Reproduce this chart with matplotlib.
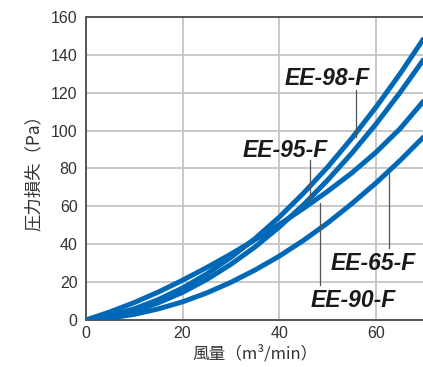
import matplotlib
matplotlib.use("Agg")
from matplotlib import pyplot as plt

# air flow (m3/min) vs pressure loss (Pa)
flow = [0, 5, 10, 15, 20, 25, 30, 35, 40, 45, 50, 55, 60, 65, 70]
ee98 = [0, 2.3, 5.9, 10.8, 16.9, 24.3, 33.1, 43.0, 54.3, 66.9, 80.7, 95.9, 112.3, 130.0, 149.0]
ee95 = [0, 1.8, 4.8, 9.1, 14.6, 21.4, 29.4, 38.6, 49.1, 60.8, 73.8, 88.0, 103.4, 120.1, 138.0]
ee90 = [0, 4.3, 9.2, 14.8, 21.0, 27.7, 34.8, 42.4, 50.4, 58.9, 67.9, 77.6, 88.5, 101.0, 116.0]
ee65 = [0, 1.05, 3.0, 5.9, 9.6, 14.3, 19.9, 26.4, 33.7, 42.0, 51.2, 61.4, 72.3, 84.2, 97.0]

names = ['EE-98-F', 'EE-95-F', 'EE-90-F', 'EE-65-F']
# label text position (centre x, baseline y) and leader line (x, y_top, y_bottom)
label_xy = [(50.0, 124.0), (41.2, 86.0), (55.4, 6.7), (59.5, 26.2)]
leaders = [(55.9, 121.5, 96.5), (46.4, 84.5, 63.5), (48.5, 62.0, 18.5), (62.7, 78.0, 38.0)]

blue = '#0068b7'

fig = plt.figure(figsize=(4.23, 3.67), dpi=100)
ax = fig.add_axes([0.203, 0.128, 0.8, 0.826])

for ys in [ee98, ee95, ee90, ee65]:
    ax.plot(flow, ys, color=blue, lw=3.6, solid_capstyle='butt', zorder=3)

for (x, y1, y2) in leaders:
    ax.plot([x, x], [y1, y2], color='#555555', lw=0.9, zorder=4)

for name, (tx, ty) in zip(names, label_xy):
    ax.text(tx, ty, name, fontsize=16.5, fontweight='bold', fontstyle='italic',
            family='Liberation Sans', color='#1a1a1a', ha='center', va='baseline', zorder=5)

ax.set_xlim(0, 70)
ax.set_ylim(0, 160)
ax.set_xticks([0, 20, 40, 60])
ax.set_yticks(range(0, 161, 20))
ax.grid(True, color='#c0c0c0', lw=1.2)
ax.set_axisbelow(True)
ax.tick_params(length=0, labelsize=11.5, colors='#333333')
ax.tick_params(axis='y', pad=6)
ax.tick_params(axis='x', pad=4)
for lab in ax.get_xticklabels() + ax.get_yticklabels():
    lab.set_family('Liberation Sans')
for s in ax.spines.values():
    s.set_color('#555555')
    s.set_linewidth(1.4)
ax.spines['right'].set_visible(False)

jp = ['Noto Sans CJK JP', 'DejaVu Sans']
ax.set_xlabel('風量（m³/min）', fontsize=12, family=jp, color='#333333', labelpad=3)
ax.set_ylabel('圧力損失（Pa）', fontsize=12.5, family=jp, color='#333333', labelpad=6)

fig.savefig('out.png', dpi=100)
